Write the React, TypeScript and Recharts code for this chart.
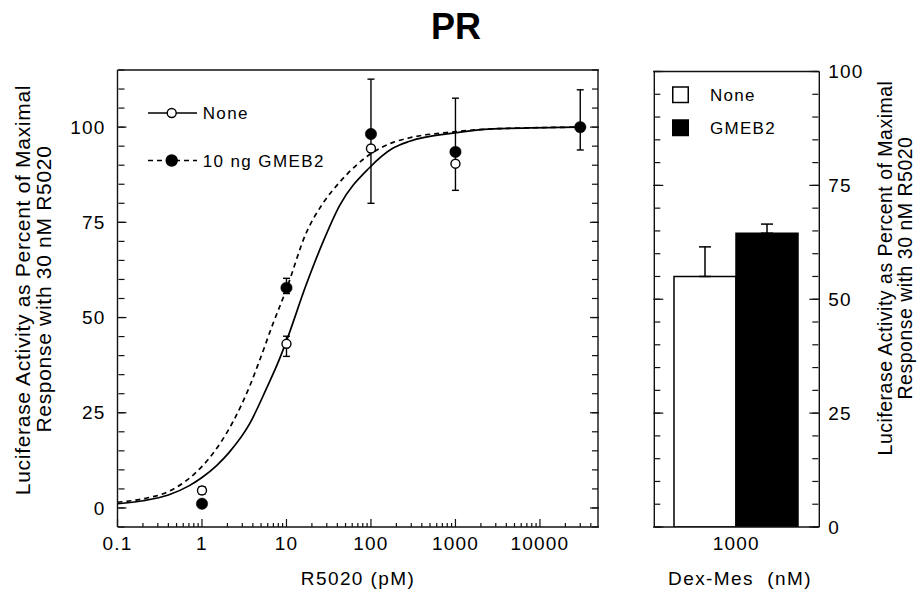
import React from 'react';
import { ComposedChart, Line, Scatter, XAxis, YAxis, ErrorBar, Legend, BarChart, Bar } from 'recharts';

const FONT = '"Liberation Sans", Arial, Helvetica, sans-serif';

// ---- Dose-response panel (R5020, pM) ----
const doseTicks = [0.1, 1, 10, 100, 1000, 10000];
const doseMinorTicks = [
  0.2, 0.3, 0.4, 0.5, 0.6, 0.7, 0.8, 0.9,
  2, 3, 4, 5, 6, 7, 8, 9,
  20, 30, 40, 50, 60, 70, 80, 90,
  200, 300, 400, 500, 600, 700, 800, 900,
  2000, 3000, 4000, 5000, 6000, 7000, 8000, 9000,
  20000, 30000, 40000,
];
const pctTicks = [0, 25, 50, 75, 100];
const pctMinorTicks = [-5, 0, 5, 10, 15, 20, 25, 30, 35, 40, 45, 50, 55, 60, 65, 70, 75, 80, 85, 90, 95, 100, 105, 110, 115];

const doseNone = [1, 10, 100, 1000, 30000];
const valuesNone = [4.6, 43.1, 94.4, 90.4, 100];
const errorsNone: (number[] | null)[] = [[1, 1], [3.3, 2], null, null, null];

const doseGmeb2 = [1, 10, 100, 1000, 30000];
const valuesGmeb2 = [1.1, 57.8, 98.2, 93.5, 100];
const errorsGmeb2: (number[] | null)[] = [null, [1.5, 2.5], [18.2, 14.4], [10.1, 14.1], [6, 9.8]];

// fitted curves
const fitNoneX = [0.1, 0.2, 0.4, 0.7, 1, 1.5, 2.1, 3.64, 5.75, 8.3, 9.9, 17.1, 27, 42.5, 96.6, 183, 288, 1000, 2500, 30000];
const fitNoneY = [1.1, 1.9, 3.4, 5.8, 8.0, 11.2, 14.6, 22.0, 31.2, 39.2, 43.6, 58.6, 69.8, 79.4, 89.4, 94.5, 96.3, 98.5, 99.5, 100];
const fitGmebX = [0.1, 0.2, 0.4, 0.62, 1, 1.22, 2.31, 3.64, 4.78, 6.9, 9.9, 17.1, 27, 42.5, 96.6, 183, 288, 1000, 2500, 30000];
const fitGmebY = [1.5, 2.4, 4.3, 6.8, 10.9, 13.1, 22.5, 31.8, 38.6, 48.3, 57.2, 72.2, 80.0, 85.5, 92.8, 96.0, 97.2, 98.8, 99.5, 100];

// ---- Dex-Mes panel ----
const barCategories = ['1000'];
const barNone = [55];
const barNoneErr = [6.5];
const barGmeb2 = [64.5];
const barGmeb2Err = [2];
const barMinorTicks = [0, 5, 10, 15, 20, 25, 30, 35, 40, 45, 50, 55, 60, 65, 70, 75, 80, 85, 90, 95, 100];

const allDoseTicks = [...doseTicks, ...doseMinorTicks].sort((a, b) => a - b);
const pointsNone = doseNone.map((x, i) => ({ x, y: valuesNone[i], err: errorsNone[i] }));
const pointsGmeb2 = doseGmeb2.map((x, i) => ({ x, y: valuesGmeb2[i], err: errorsGmeb2[i] }));
const curveNone = fitNoneX.map((x, i) => ({ x, y: fitNoneY[i] }));
const curveGmeb2 = fitGmebX.map((x, i) => ({ x, y: fitGmebY[i] }));
const barData = barCategories.map((cat, i) => ({
  cat,
  none: barNone[i],
  noneErr: [0, barNoneErr[i]],
  gmeb2: barGmeb2[i],
  gmebErr: [0, barGmeb2Err[i]],
}));

const AX = { stroke: '#111', strokeWidth: 1.4 };
const TK = { stroke: '#111', strokeWidth: 1.2 };
const TICKTXT = { fill: '#000', fontSize: 19 };
const DOSE_DOMAIN: [number, number] = [0.1, 50000];
const X_TICK_MARGIN = 10;
const NoLabel = () => <g />;

// bottom dose axis tick: inward tick mark + label for decades
function DoseTick(props: any) {
  const { x, y, payload } = props;
  const v = payload.value;
  const major = doseTicks.indexOf(v) >= 0;
  const base = y - X_TICK_MARGIN;
  return (
    <g>
      <line x1={x} x2={x} y1={base} y2={base - (major ? 8 : 4)} stroke="#111" strokeWidth={1.2} />
      {major && (
        <text x={x} y={y} dy="0.71em" textAnchor="middle" fontSize={19} fill="#000">{String(v)}</text>
      )}
    </g>
  );
}

const LEFT_LEGEND_ORDER = ['None', '10 ng GMEB2'];
const LEFT_LEGEND: Record<string, { dash?: string; fill: string; r: number }> = {
  None: { fill: '#fff', r: 4.5 },
  '10 ng GMEB2': { dash: '5 4', fill: '#000', r: 5.5 },
};

function DoseLegend(props: any) {
  const items = (props.payload || [])
    .filter((e: any) => LEFT_LEGEND[e.value])
    .sort((a: any, b: any) => LEFT_LEGEND_ORDER.indexOf(a.value) - LEFT_LEGEND_ORDER.indexOf(b.value));
  return (
    <svg width={220} height={90} style={{ overflow: 'visible' }}>
      {items.map((e: any, i: number) => {
        const st = LEFT_LEGEND[e.value];
        const cy = 23 + i * 47.5;
        return (
          <g key={e.value}>
            <line x1={8} x2={57} y1={cy} y2={cy} stroke="#000" strokeWidth={1.5} strokeDasharray={st.dash} />
            <circle cx={31.7} cy={cy} r={st.r} fill={st.fill} stroke="#000" strokeWidth={1.4} />
            <text x={62.7} y={cy + 6} fontSize={17} fill="#000" style={{ letterSpacing: '1.4px' }}>{e.value}</text>
          </g>
        );
      })}
    </svg>
  );
}

const BAR_LEGEND_ORDER = ['None', 'GMEB2'];
const BAR_LEGEND: Record<string, string> = { None: '#fff', GMEB2: '#000' };

function BarLegend(props: any) {
  const items = (props.payload || [])
    .filter((e: any) => BAR_LEGEND[e.value])
    .sort((a: any, b: any) => BAR_LEGEND_ORDER.indexOf(a.value) - BAR_LEGEND_ORDER.indexOf(b.value));
  return (
    <svg width={130} height={70} style={{ overflow: 'visible' }}>
      {items.map((e: any, i: number) => {
        const y = 7 + i * 33;
        return (
          <g key={e.value}>
            <rect x={0.75} y={y} width={15.5} height={15.5} fill={BAR_LEGEND[e.value]} stroke="#000" strokeWidth={1.5} />
            <text x={38} y={y + 14} fontSize={17} fill="#000" style={{ letterSpacing: '1.3px' }}>{e.value}</text>
          </g>
        );
      })}
    </svg>
  );
}

const openCircle = (p: any) => <circle cx={p.cx} cy={p.cy} r={4.5} fill="#fff" stroke="#000" strokeWidth={1.4} />;
const filledCircle = (p: any) => <circle cx={p.cx} cy={p.cy} r={5.7} fill="#000" stroke="#000" strokeWidth={0.5} />;

export default function App() {
  return (
    <div style={{ position: 'absolute', left: 0, top: 0, width: 920, height: 596, background: '#fff', fontFamily: FONT, letterSpacing: '1.2px' }}>
      <svg width={920} height={596} style={{ position: 'absolute', left: 0, top: 0 }}>
        <text x={456} y={39} textAnchor="middle" fontSize={36} fontWeight="bold" fill="#000" style={{ letterSpacing: '0px' }}>PR</text>
        <text x={358} y={585} textAnchor="middle" fontSize={19} fill="#000" style={{ letterSpacing: '1.4px' }}>R5020 (pM)</text>
        <text x={740} y={585} textAnchor="middle" fontSize={19} fill="#000" style={{ letterSpacing: '1.4px', whiteSpace: 'pre' }}>{'Dex-Mes  (nM)'}</text>
        <g transform="rotate(-90 29.5 290)">
          <text x={29.5} y={290} textAnchor="middle" fontSize={21} fill="#000" style={{ letterSpacing: '0.7px' }}>Luciferase Activity as Percent of Maximal</text>
        </g>
        <g transform="rotate(-90 50.5 289)">
          <text x={50.5} y={289} textAnchor="middle" fontSize={21} fill="#000" style={{ letterSpacing: '0.7px' }}>Response with 30 nM R5020</text>
        </g>
        <g transform="rotate(-90 891.7 268)">
          <text x={891.7} y={268} textAnchor="middle" fontSize={19.5} fill="#000" style={{ letterSpacing: '0.5px' }}>Luciferase Activity as Percent of Maximal</text>
        </g>
        <g transform="rotate(-90 911.7 268)">
          <text x={911.7} y={268} textAnchor="middle" fontSize={19.5} fill="#000" style={{ letterSpacing: '0.5px' }}>Response with 30 nM R5020</text>
        </g>
      </svg>

      <div style={{ position: 'absolute', left: 0, top: 0 }}>
        <ComposedChart width={620} height={596} margin={{ top: 70, right: 21, bottom: 39, left: 60 }}>
          <XAxis xAxisId="x" dataKey="x" type="number" scale="log" domain={DOSE_DOMAIN} allowDataOverflow
            ticks={allDoseTicks} interval={0} tickLine={false} tickSize={0} tickMargin={X_TICK_MARGIN} height={30}
            axisLine={AX} tick={DoseTick} />
          <XAxis xAxisId="xTop" orientation="top" type="number" scale="log" domain={DOSE_DOMAIN} allowDataOverflow
            ticks={doseTicks} interval={0} mirror height={1} tick={false} tickLine={false} axisLine={AX} />
          <YAxis yAxisId="y" type="number" domain={[-5, 115]} allowDataOverflow ticks={pctTicks} interval={0}
            tickLine={false} tickSize={0} tickMargin={12} width={57.5} axisLine={AX} tick={TICKTXT} />
          <YAxis yAxisId="yMinorL" type="number" domain={[-5, 115]} allowDataOverflow ticks={pctMinorTicks} interval={0}
            mirror width={1} tick={NoLabel} tickSize={6} tickLine={TK} axisLine={false} />
          <YAxis yAxisId="yMajorL" type="number" domain={[-5, 115]} allowDataOverflow ticks={pctTicks} interval={0}
            mirror width={1} tick={NoLabel} tickSize={9} tickLine={TK} axisLine={false} />
          <YAxis yAxisId="yMinorR" orientation="right" type="number" domain={[-5, 115]} allowDataOverflow ticks={pctMinorTicks} interval={0}
            mirror width={1} tick={NoLabel} tickSize={6} tickLine={TK} axisLine={AX} />
          <YAxis yAxisId="yMajorR" orientation="right" type="number" domain={[-5, 115]} allowDataOverflow ticks={pctTicks} interval={0}
            mirror width={1} tick={NoLabel} tickSize={9} tickLine={TK} axisLine={false} />

          <Line xAxisId="x" yAxisId="y" data={curveNone} dataKey="y" type="monotone" stroke="#000" strokeWidth={1.7}
            dot={false} activeDot={false} legendType="none" isAnimationActive={false} />
          <Line xAxisId="x" yAxisId="y" data={curveGmeb2} dataKey="y" type="monotone" stroke="#000" strokeWidth={1.7}
            strokeDasharray="5 4" dot={false} activeDot={false} legendType="none" isAnimationActive={false} />
          <Scatter xAxisId="x" yAxisId="y" name="None" data={pointsNone} dataKey="y" shape={openCircle}
            fill="#fff" stroke="#000" isAnimationActive={false}>
            <ErrorBar dataKey="err" direction="y" width={3.5} stroke="#000" strokeWidth={1.4} isAnimationActive={false} />
          </Scatter>
          <Scatter xAxisId="x" yAxisId="y" name="10 ng GMEB2" data={pointsGmeb2} dataKey="y" shape={filledCircle}
            fill="#000" isAnimationActive={false}>
            <ErrorBar dataKey="err" direction="y" width={3.5} stroke="#000" strokeWidth={1.4} isAnimationActive={false} />
          </Scatter>
          <Legend layout="vertical" align="center" verticalAlign="middle" content={(p: any) => <DoseLegend {...p} />}
            wrapperStyle={{ left: 140, top: 90, width: 220, height: 90 }} />
        </ComposedChart>
      </div>

      <div style={{ position: 'absolute', left: 620, top: 0 }}>
        <BarChart width={300} height={596} data={barData} margin={{ top: 71.5, right: 40.7, bottom: 39, left: 33.3 }}
          barCategoryGap={20.7} barGap={0}>
          <XAxis xAxisId="c" dataKey="cat" tickLine={false} tickSize={0} tickMargin={10} height={30}
            axisLine={AX} tick={TICKTXT} interval={0} />
          <XAxis xAxisId="top" orientation="top" dataKey="cat" mirror height={1} tick={false} tickLine={false} axisLine={AX} />
          <YAxis yAxisId="v" orientation="right" type="number" domain={[0, 100]} allowDataOverflow ticks={pctTicks} interval={0}
            tickLine={false} tickSize={0} tickMargin={9} width={60} axisLine={AX} tick={{ ...TICKTXT, textAnchor: 'start' }} />
          <YAxis yAxisId="vMinorR" orientation="right" type="number" domain={[0, 100]} allowDataOverflow ticks={barMinorTicks} interval={0}
            mirror width={1} tick={NoLabel} tickSize={6} tickLine={TK} axisLine={false} />
          <YAxis yAxisId="vMajorR" orientation="right" type="number" domain={[0, 100]} allowDataOverflow ticks={pctTicks} interval={0}
            mirror width={1} tick={NoLabel} tickSize={10} tickLine={TK} axisLine={false} />
          <YAxis yAxisId="vMinorL" orientation="left" type="number" domain={[0, 100]} allowDataOverflow ticks={barMinorTicks} interval={0}
            mirror width={1} tick={NoLabel} tickSize={6} tickLine={TK} axisLine={AX} />
          <YAxis yAxisId="vMajorL" orientation="left" type="number" domain={[0, 100]} allowDataOverflow ticks={pctTicks} interval={0}
            mirror width={1} tick={NoLabel} tickSize={10} tickLine={TK} axisLine={false} />
          <Bar xAxisId="c" yAxisId="v" dataKey="none" name="None" fill="#fff" stroke="#000" strokeWidth={1.5} isAnimationActive={false}>
            <ErrorBar dataKey="noneErr" direction="y" width={6} stroke="#000" strokeWidth={1.5} isAnimationActive={false} />
          </Bar>
          <Bar xAxisId="c" yAxisId="v" dataKey="gmeb2" name="GMEB2" fill="#000" stroke="#000" strokeWidth={1.5} isAnimationActive={false}>
            <ErrorBar dataKey="gmebErr" direction="y" width={6} stroke="#000" strokeWidth={1.5} isAnimationActive={false} />
          </Bar>
          <Legend layout="vertical" align="center" verticalAlign="middle" content={(p: any) => <BarLegend {...p} />}
            wrapperStyle={{ left: 52, top: 80, width: 130, height: 70 }} />
        </BarChart>
      </div>
    </div>
  );
}
